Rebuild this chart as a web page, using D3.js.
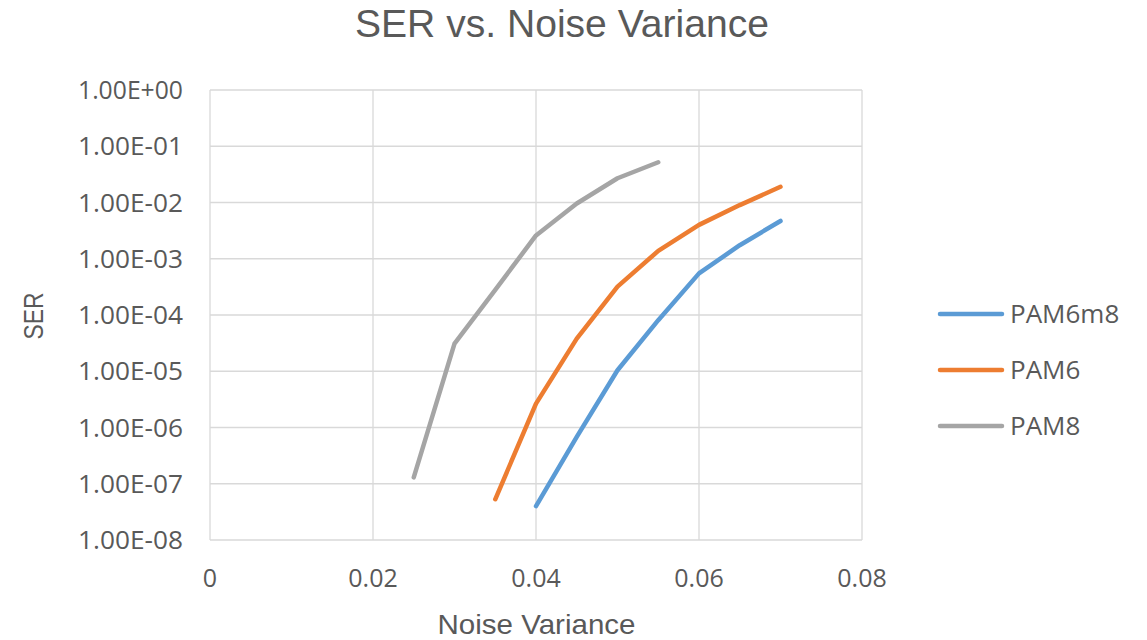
<!DOCTYPE html>
<html><head><meta charset="utf-8">
<script src="https://cdn.jsdelivr.net/npm/d3@7"></script>
<style>body{margin:0;background:#fff;} svg{display:block;}</style>
</head><body>
<script>
const seriesNames = ["PAM6m8", "PAM6", "PAM8"];
const seriesColors = ["#5B9BD5", "#ED7D31", "#A5A5A5"];
const pam6m8X = [0.04, 0.045, 0.05, 0.055, 0.06, 0.065, 0.07];
const pam6m8Y = [4.0e-8, 6.8e-7, 1.04e-5, 8.1e-5, 5.5e-4, 1.74e-3, 4.7e-3];
const pam6X = [0.035, 0.04, 0.045, 0.05, 0.055, 0.06, 0.065, 0.07];
const pam6Y = [5.3e-8, 2.66e-6, 3.8e-5, 3.2e-4, 1.38e-3, 4.0e-3, 9.0e-3, 1.9e-2];
const pam8X = [0.025, 0.03, 0.035, 0.04, 0.045, 0.05, 0.055];
const pam8Y = [1.3e-7, 3.1e-5, 2.8e-4, 2.6e-3, 9.6e-3, 2.7e-2, 5.2e-2];
const xTicks = [0, 0.02, 0.04, 0.06, 0.08];
const yTicks = [1, 1e-1, 1e-2, 1e-3, 1e-4, 1e-5, 1e-6, 1e-7, 1e-8];
const yTickLabels = ["1.00E+00","1.00E-01","1.00E-02","1.00E-03","1.00E-04","1.00E-05","1.00E-06","1.00E-07","1.00E-08"];
const xTickLabels = ["0","0.02","0.04","0.06","0.08"];

const W = 1147, H = 640;
const font = "'Open Sans', 'Noto Sans', sans-serif";
const font2 = "'Liberation Sans', Arial, sans-serif";
const svg = d3.select("body").append("svg").attr("width", W).attr("height", H);
const x = d3.scaleLinear().domain([0, 0.08]).range([210, 862]);
const y = d3.scaleLog().domain([1e-8, 1]).range([540, 90]);
const grid = "#D9D9D9";
const txt = "#595959";

// gridlines
svg.append("g").selectAll("line").data(yTicks).join("line")
  .attr("x1", x(0)).attr("x2", x(0.08)).attr("y1", d => y(d)).attr("y2", d => y(d))
  .attr("stroke", grid).attr("stroke-width", 1.3);
svg.append("g").selectAll("line").data(xTicks).join("line")
  .attr("x1", d => x(d)).attr("x2", d => x(d)).attr("y1", y(1)).attr("y2", y(1e-8))
  .attr("stroke", grid).attr("stroke-width", 1.3);

// tick labels
svg.append("g").selectAll("text").data(yTicks).join("text")
  .attr("x", 183).attr("y", d => y(d)).attr("dy", "0.36em")
  .attr("text-anchor", "end").attr("font-family", font).attr("font-size", 25.5)
  .attr("fill", txt).attr("textLength", 105).attr("lengthAdjust", "spacingAndGlyphs")
  .text((d, i) => yTickLabels[i]);
svg.append("g").selectAll("text").data(xTicks).join("text")
  .attr("x", d => x(d)).attr("y", 587)
  .attr("text-anchor", "middle").attr("font-family", font).attr("font-size", 25)
  .attr("fill", txt).text((d, i) => xTickLabels[i]);

// titles
svg.append("text").attr("x", 562).attr("y", 37).attr("text-anchor", "middle")
  .attr("font-family", font2).attr("font-size", 39.5).attr("fill", txt)
  .attr("textLength", 414).attr("lengthAdjust", "spacingAndGlyphs")
  .text("SER vs. Noise Variance");
svg.append("text").attr("x", 536.5).attr("y", 633.5).attr("text-anchor", "middle")
  .attr("font-family", font2).attr("font-size", 28).attr("fill", txt)
  .attr("textLength", 198).attr("lengthAdjust", "spacingAndGlyphs")
  .text("Noise Variance");
svg.append("text").attr("transform", "translate(43,316) rotate(-90)").attr("text-anchor", "middle")
  .attr("font-family", font2).attr("font-size", 28).attr("fill", txt)
  .attr("textLength", 47).attr("lengthAdjust", "spacingAndGlyphs")
  .text("SER");

// lines
const series = [
  pam6m8X.map((v, i) => [v, pam6m8Y[i]]),
  pam6X.map((v, i) => [v, pam6Y[i]]),
  pam8X.map((v, i) => [v, pam8Y[i]])
];
const line = d3.line().x(d => x(d[0])).y(d => y(d[1]));
series.forEach((s, i) => {
  svg.append("path").datum(s).attr("d", line).attr("fill", "none")
    .attr("stroke", seriesColors[i]).attr("stroke-width", 4.5)
    .attr("stroke-linejoin", "round").attr("stroke-linecap", "round");
});

// legend
const legY = [314, 370, 426];
seriesNames.forEach((n, i) => {
  svg.append("line").attr("x1", 940).attr("x2", 1002).attr("y1", legY[i]).attr("y2", legY[i])
    .attr("stroke", seriesColors[i]).attr("stroke-width", 4.5).attr("stroke-linecap", "round");
  svg.append("text").attr("x", 1010).attr("y", legY[i]).attr("dy", "0.36em")
    .attr("font-family", font).attr("font-size", 26).attr("fill", txt).text(n);
});
</script>
</body></html>
